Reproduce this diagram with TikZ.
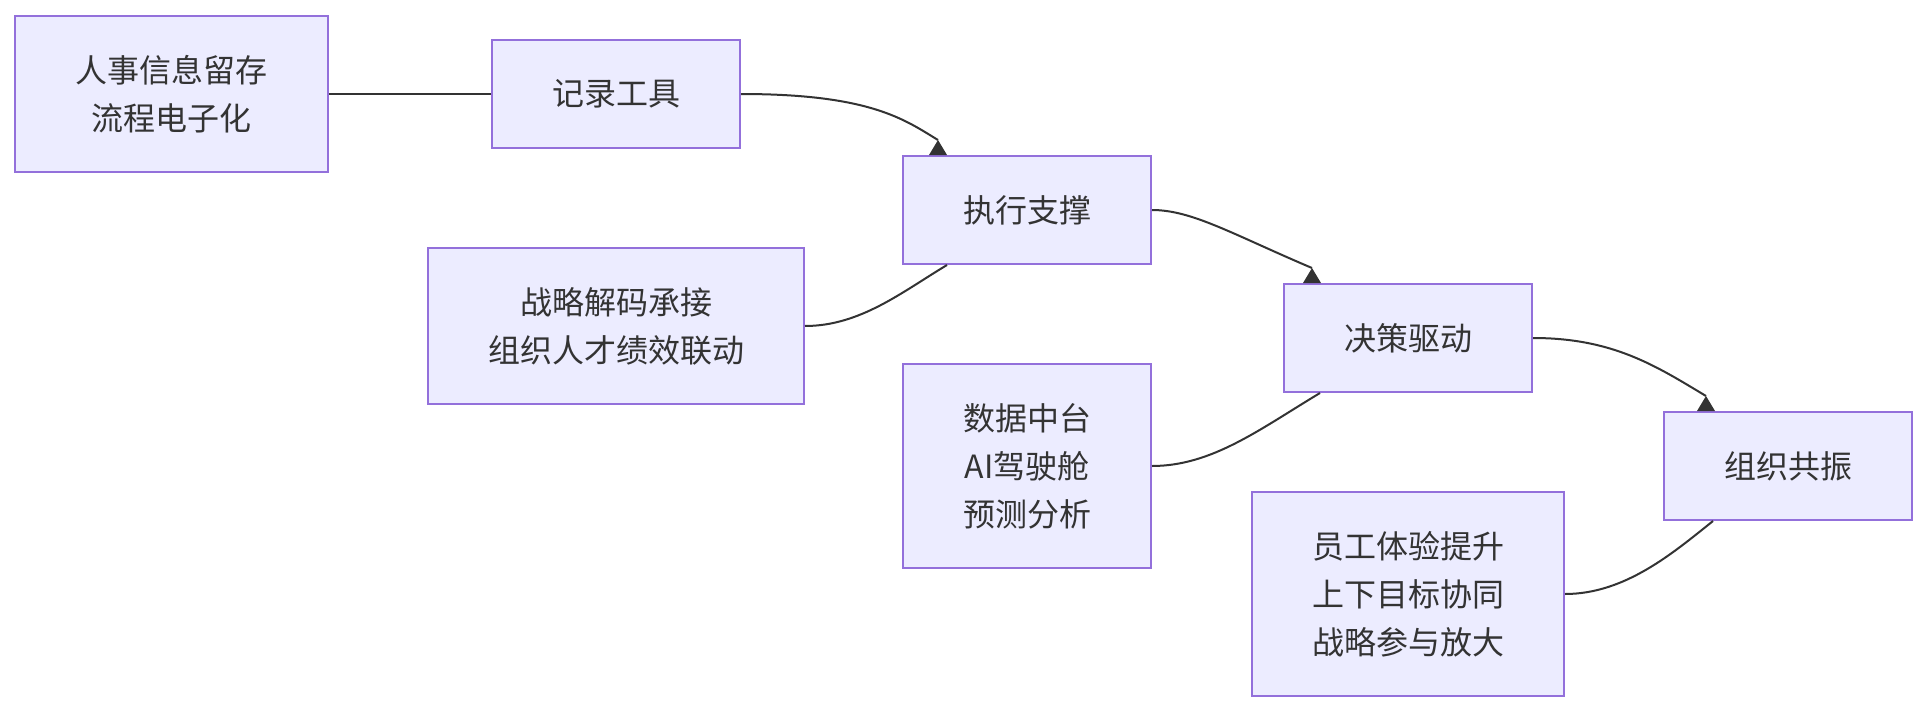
\documentclass[tikz,border=0pt]{standalone}
\usepackage{fontspec}
\setmainfont{Noto Sans CJK SC}
\usetikzlibrary{calc}
\definecolor{boxfill}{HTML}{ECECFF}
\definecolor{boxline}{HTML}{9370DB}
\definecolor{ink}{HTML}{333333}
\tikzset{
  box/.style={draw=boxline, fill=boxfill, line width=1pt, inner sep=0pt, align=center,
    text=ink, font=\fontsize{16pt}{24pt}\selectfont},
  link/.style={draw=ink, line width=1pt},
  headtri/.style={fill=ink}
}
\begin{document}
\begin{tikzpicture}[x=0.5pt,y=-0.5pt]
\useasboundingbox (0,0) rectangle (1928,712);
\node[box, minimum width=156.5pt, minimum height=78pt] (n1) at (171.5,94) {人事信息留存\\流程电子化};
\node[box, minimum width=124pt, minimum height=54pt] (n2) at (616,94) {记录工具};
\node[box, minimum width=124pt, minimum height=54pt] (n3) at (1027,210) {执行支撑};
\node[box, minimum width=188pt, minimum height=78pt] (n4) at (616,326) {战略解码承接\\组织人才绩效联动};
\node[box, minimum width=124pt, minimum height=54pt] (n5) at (1408,338) {决策驱动};
\node[box, minimum width=124pt, minimum height=102pt] (n6) at (1027,466) {数据中台\\AI驾驶舱\\预测分析};
\node[box, minimum width=124pt, minimum height=54pt] (n7) at (1788,466) {组织共振};
\node[box, minimum width=156pt, minimum height=102pt] (n8) at (1408,594) {员工体验提升\\上下目标协同\\战略参与放大};

% arrow entry points on box tops
\coordinate (a3) at ([xshift=-44.5pt]n3.north);
\coordinate (a5) at ([xshift=-48pt]n5.north);
\coordinate (a7) at ([xshift=-41pt]n7.north);
\coordinate (t3) at ([yshift=7.5pt]a3);
\coordinate (t5) at ([yshift=7.5pt]a5);
\coordinate (t7) at ([yshift=7.5pt]a7);

\draw[link] (n1.east) -- (n2.west);
\draw[link] (n2.east) .. controls +(130,0) and +(-33,-20) .. (t3);
\draw[link] (n4.east) .. controls +(55,0) and +(-45,27) .. ([xshift=-40pt]n3.south);
\draw[link] (n3.east) .. controls +(40,0) and +(-80,-34) .. (t5);
\draw[link] (n6.east) .. controls +(60,0) and +(-60,36) .. ([xshift=-44pt]n5.south);
\draw[link] (n5.east) .. controls +(80,0) and +(-50,-30) .. (t7);
\draw[link] (n8.east) .. controls +(60,0) and +(-40,32) .. ([xshift=-37.5pt]n7.south);

\fill[headtri] ([xshift=-4.5pt]a3) -- (t3) -- ([xshift=4.5pt]a3) -- cycle;
\fill[headtri] ([xshift=-4.5pt]a5) -- (t5) -- ([xshift=4.5pt]a5) -- cycle;
\fill[headtri] ([xshift=-4.5pt]a7) -- (t7) -- ([xshift=4.5pt]a7) -- cycle;
\end{tikzpicture}
\end{document}
